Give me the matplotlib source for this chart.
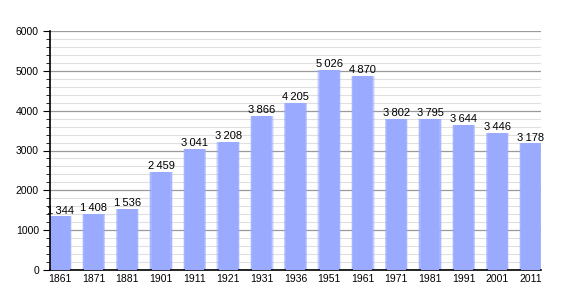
import matplotlib.pyplot as plt
import numpy as np

plt.rcParams['font.family'] = ['Liberation Sans', 'DejaVu Sans']

years = ['1861', '1871', '1881', '1901', '1911', '1921', '1931', '1936',
         '1951', '1961', '1971', '1981', '1991', '2001', '2011']
population = [1344, 1408, 1536, 2459, 3041, 3208, 3866, 4205,
              5026, 4870, 3802, 3795, 3644, 3446, 3178]


def fmt(v):
    # thousands separated by a narrow space
    return f'{v:,}'.replace(',', '\u202f')


fig = plt.figure(figsize=(5.7, 3.0), dpi=100)
ax = fig.add_axes([50 / 570, 30 / 300, 491 / 570, 239 / 300])

x = np.arange(len(years))
w = 0.6

# soft edged bars: a few wider, fainter layers under a solid core
for extra, alpha in [(0.10, 0.25), (0.06, 0.45), (0.03, 0.7)]:
    ax.bar(x, population, width=w + extra, color='#9aabff', alpha=alpha,
           linewidth=0, zorder=2)
ax.bar(x, population, width=w - 0.04, color='#9aabff', linewidth=0, zorder=3)

for xi, v in zip(x, population):
    ax.text(xi, v + 20, fmt(v), ha='center', va='bottom', fontsize=8,
            color='black', zorder=10, clip_on=False)

ax.set_xlim(-w / 2, len(years) - 1 + w / 2)
ax.set_ylim(0, 6000)
ax.set_yticks(np.arange(0, 6001, 1000))
ax.set_yticks(np.arange(0, 6001, 200), minor=True)
ax.set_xticks(x)
ax.set_xticklabels(years)
ax.tick_params(axis='x', length=0, labelsize=7.5, pad=3)
ax.tick_params(axis='y', which='major', length=5, labelsize=7.5, pad=3)
ax.tick_params(axis='y', which='minor', length=3)

ax.grid(axis='y', which='major', color='#9a9a9a', linewidth=0.9, zorder=0)
ax.grid(axis='y', which='minor', color='#e0e0e0', linewidth=0.8, zorder=0)
ax.set_axisbelow(True)

for s in ['top', 'right']:
    ax.spines[s].set_visible(False)
ax.spines['left'].set_linewidth(1.2)
ax.spines['bottom'].set_linewidth(1.2)

fig.savefig('out.png', dpi=100)
